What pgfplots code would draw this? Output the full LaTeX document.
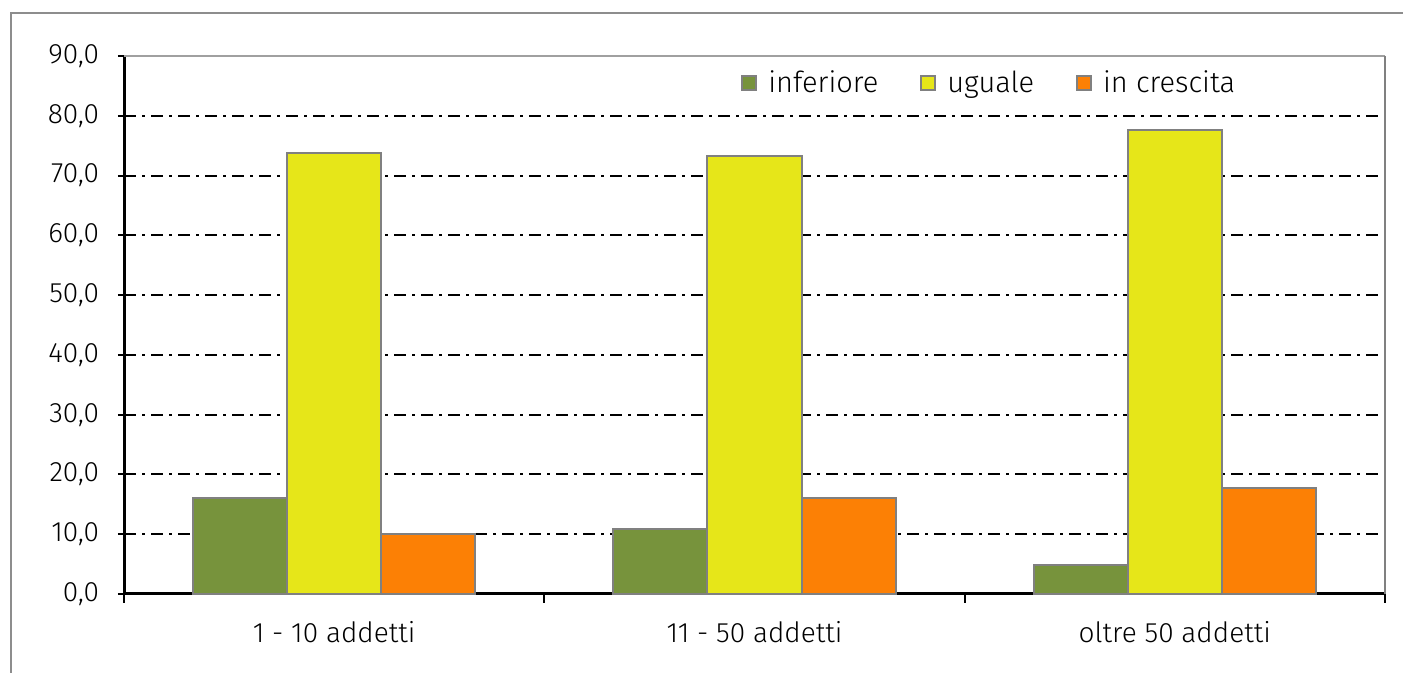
\documentclass[border=0pt]{standalone}
\usepackage{pgfplots}
\pgfplotsset{compat=1.18}
\usepackage{fontspec}
\setmainfont{Fira Sans Light}
\definecolor{cInf}{RGB}{119,147,60}
\definecolor{cUgu}{RGB}{230,230,25}
\definecolor{cCre}{RGB}{252,128,5}
\definecolor{edge}{RGB}{128,128,128}
\begin{document}
\begin{tikzpicture}
\useasboundingbox (0,0) rectangle (701.5pt,336.5pt);
\draw[line width=1pt, color=edge!90] (5.5pt,0) -- (5.5pt,330pt) -- (701.5pt,330pt);
\begin{axis}[
 at={(62pt,39.5pt)}, anchor=south west,
 scale only axis, width=630.5pt, height=269pt,
 clip=false,
 ybar=0pt, bar width=0.224,
 xmin=-0.5, xmax=2.5, ymin=0, ymax=90,
 axis x line*=bottom, axis y line*=left,
 axis line style={black, line width=1.5pt, -},
 xtick={0,1,2},
 xticklabels={1 - 10 addetti, 11 - 50 addetti, oltre 50 addetti},
 xtick style={draw=none},
 xticklabel style={yshift=-7pt},
 extra x ticks={-0.5,0.5,1.5,2.5}, extra x tick labels={},
 extra x tick style={xtick style={draw=black, line width=1pt}, major tick length=4.5pt, tick align=outside},
 ytick={0,10,...,90},
 ytick style={black, line width=1pt},
 major tick length=6pt, tick align=center,
 yticklabel style={xshift=-6pt},
 /pgf/number format/assume math mode=true,
 yticklabel={\pgfmathprintnumber[fixed, fixed zerofill, precision=1, use comma]{\tick}},
 ymajorgrids,
 grid style={black, line width=1pt, dash pattern=on 6pt off 3pt on 1.5pt off 3pt},
 tick label style={font=\fontsize{14}{16}\selectfont},
 legend style={at={(0.687,0.95)}, anchor=center, draw=none, fill=none,
   legend columns=-1, font=\fontsize{14.5}{16}\selectfont,
   /tikz/every even column/.append style={column sep=19pt}},
 legend image code/.code={\draw[#1] (0pt,-3.5pt) rectangle (7pt,3.5pt);
   \path[draw=none, fill=none] (0pt,0pt) rectangle (11pt,0.1pt);},
]
\addplot[fill=cInf, draw=edge, line width=1pt] coordinates {(0,16.0) (1,10.8) (2,4.8)};
\addplot[fill=cUgu, draw=edge, line width=1pt] coordinates {(0,73.7) (1,73.2) (2,77.6)};
\addplot[fill=cCre, draw=edge, line width=1pt] coordinates {(0,10.0) (1,16.0) (2,17.7)};
\legend{inferiore, uguale, in crescita}
\draw[edge!75, line width=1.4pt] (rel axis cs:0,1) -- (rel axis cs:1,1);
\draw[edge, line width=1.2pt] (rel axis cs:1,1) -- (rel axis cs:1,0);
\end{axis}
\end{tikzpicture}
\end{document}
